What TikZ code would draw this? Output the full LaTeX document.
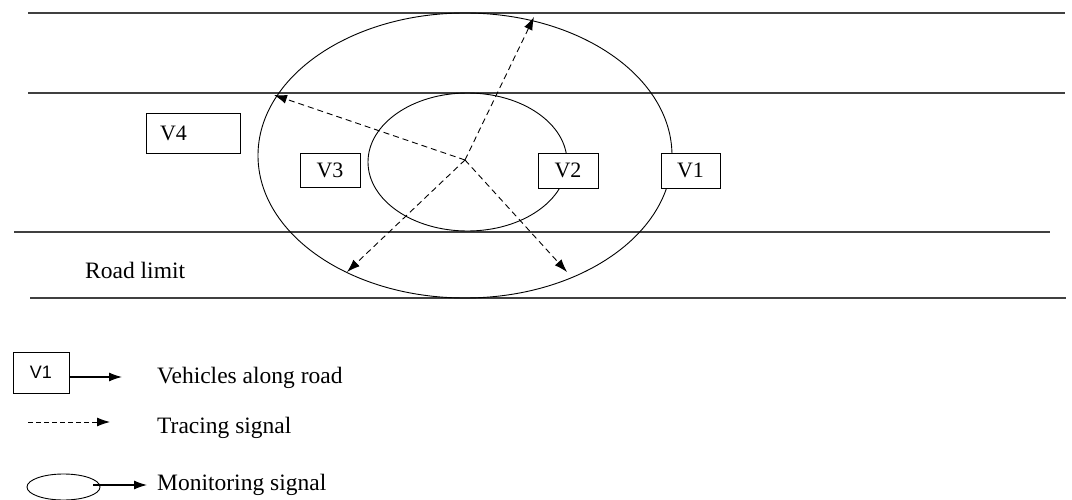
\documentclass[tikz,border=0pt]{standalone}
\usepackage{fontspec}
\setmainfont{Liberation Serif}
\setsansfont{Liberation Sans}
\usetikzlibrary{arrows.meta,shapes.geometric}
\begin{document}
\begin{tikzpicture}[x=1pt,y=-1pt,
  road/.style={draw=black!75, line width=1.8pt},
  ring/.style={draw, ellipse, line width=0.9pt, inner sep=0pt},
  vbox/.style={draw, fill=white, line width=0.9pt, inner sep=0pt,
               font=\fontsize{22}{24}\selectfont},
  trace/.style={line width=0.9pt, dash pattern=on 6pt off 4pt,
                -{Latex[length=13pt,width=9pt]}},
  plain arrow/.style={line width=1.1pt, -{Latex[length=13pt,width=9pt]}},
  caption/.style={font=\fontsize{23.5}{26}\selectfont, anchor=base west, inner sep=0pt}]
\useasboundingbox (0,0) rectangle (1072,500);

% road edges
\draw[road] (28,13)  -- (1065,13);
\draw[road] (28,93)  -- (1065,93);
\draw[road] (14,232) -- (1050,232);
\draw[road] (30,298) -- (1066,298);

% monitoring rings
\node[ring, minimum width=414pt, minimum height=285pt] (outer) at (465,155.5) {};
\node[ring, minimum width=199pt, minimum height=138pt] (inner) at (467.5,162) {};

% tracing signals from the hub
\coordinate (hub) at (465,160);
\coordinate (tUp)    at (534,17);
\coordinate (tLeft)  at (274,95);
\coordinate (tDownL) at (347,272);
\coordinate (tDownR) at (567,272);
\draw[trace] (hub) -- (tUp);
\draw[trace] (hub) -- (tLeft);
\draw[trace] (hub) -- (tDownL);
\draw[trace] (hub) -- (tDownR);

% vehicles
\node[vbox, minimum height=40pt, text width=66pt, inner xsep=14pt, align=left] (v4) at (193,133) {V4};
\node[vbox, minimum width=60pt, minimum height=34pt] (v3) at (330,170) {V3};
\node[vbox, minimum width=60pt, minimum height=35pt] (v2) at (568,170.5) {V2};
\node[vbox, minimum width=59pt, minimum height=35pt] (v1) at (690.5,170.5) {V1};

\node[caption] (road) at (85,278) {Road limit};

% legend
\node[draw, line width=0.9pt, minimum width=56pt, minimum height=41pt, inner sep=0pt,
      font=\sffamily\fontsize{18}{20}\selectfont] (lv) at (41,372.5) {V1};
\coordinate (lvEnd) at (122,377);
\draw[plain arrow] (lv.east |- lvEnd) -- (lvEnd);
\node[caption] (lvText) at (157,383) {Vehicles along road};

\coordinate (ltStart) at (28,422);
\coordinate (ltEnd) at (110,422);
\draw[trace, dash pattern=on 5pt off 3pt] (ltStart) -- (ltEnd);
\node[caption] (ltText) at (157,433) {Tracing signal};

\node[ring, minimum width=73pt, minimum height=26pt] (le) at (63.5,487) {};
\coordinate (leEnd) at (147,485);
\draw[plain arrow] (le.east |- leEnd) ++(-7,0) -- (leEnd);
\node[caption] (leText) at (157,490) {Monitoring signal};
\end{tikzpicture}
\end{document}
